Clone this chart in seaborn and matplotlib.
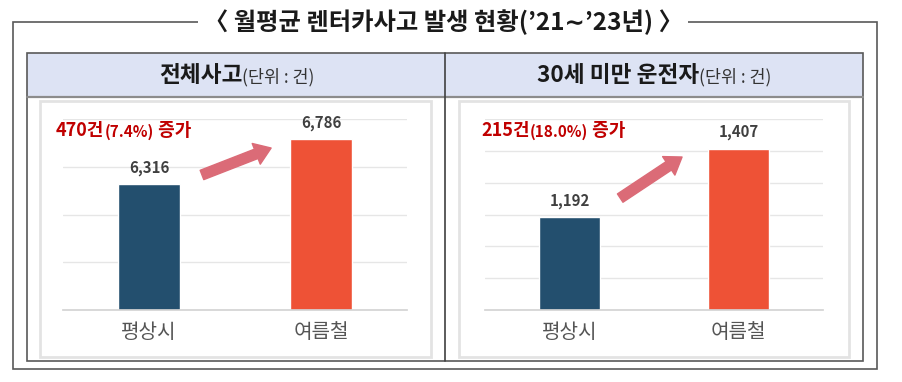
import matplotlib.pyplot as plt
import seaborn as sns
from matplotlib.patches import Rectangle, FancyArrowPatch
from matplotlib.lines import Line2D

# data
categories = ['평상시', '여름철']
total_values = [6316, 6786]
young_values = [1192, 1407]
total_note = ['470건', '(7.4%)', ' 증가']
young_note = ['215건', '(18.0%)', ' 증가']
total_ticks = [5000, 5500, 6000, 6500, 7000]
young_ticks = [900, 1000, 1100, 1200, 1300, 1400, 1500]
title = '〈 월평균 렌터카사고 발생 현황(’21∼’23년) 〉'
panel_titles = [('전체사고', '(단위 : 건)'), ('30세 미만 운전자', '(단위 : 건)')]
bar_colors = ['#234F6E', '#EE5236']

sns.set_theme(style='white')
plt.rcParams['font.family'] = ['Noto Sans CJK KR', 'DejaVu Sans']

W, H = 903, 382
fig = plt.figure(figsize=(W / 100, H / 100), dpi=100)


def fx(x):
    return x / W


def fy(y):
    return 1 - y / H


def box(x0, y0, x1, y1, **kw):
    fig.add_artist(Rectangle((fx(x0), fy(y1)), fx(x1) - fx(x0), fy(y0) - fy(y1),
                             transform=fig.transFigure, **kw))


def hline(x0, x1, y, **kw):
    fig.add_artist(Line2D([fx(x0), fx(x1)], [fy(y), fy(y)], transform=fig.transFigure, **kw))


def vline(x, y0, y1, **kw):
    fig.add_artist(Line2D([fx(x), fx(x)], [fy(y0), fy(y1)], transform=fig.transFigure, **kw))


# frames
box(13, 22, 877, 369, fill=False, ec='#595959', lw=1.2)
box(27, 53, 863, 97, fc='#DDE3F4', ec='none')
box(27, 53, 863, 361, fill=False, ec='#595959', lw=1.2)
hline(27, 863, 97, color='#8C8C8C', lw=1.6)
vline(445, 53, 361, color='#404040', lw=1.2)
box(40, 101, 431, 357, fill=False, ec='#E3E3E3', lw=2)
box(459, 101, 849, 357, fill=False, ec='#E3E3E3', lw=2)

fig.text(fx(443), fy(22), title, ha='center', va='center', fontsize=17.5, weight='bold',
         color='#1A1A1A', bbox=dict(fc='white', ec='none', pad=4))

# panel headers
for (main, unit), x in zip(panel_titles, [159, 537]):
    t = fig.text(fx(x), fy(75), main, ha='left', va='center', fontsize=16.3, weight='bold', color='#1A1A1A')
    fig.add_artist(plt.Annotation(unit, xy=(1, 0), xycoords=t, ha='left', va='bottom',
                                  fontsize=12.5, color='#333333'))


def draw_panel(rect, values, ticks, note, arrow):
    ax = fig.add_axes(rect)
    sns.barplot(x=categories, y=values, hue=categories, palette=bar_colors, width=0.36,
                legend=False, ax=ax, saturation=1)
    ax.set_ylim(ticks[0], ticks[-1])
    ax.set_xlim(-0.5, 1.5)
    ax.set_yticks(ticks)
    ax.set_yticklabels([])
    ax.yaxis.grid(True, color='#E6E6E6', lw=1)
    ax.set_axisbelow(True)
    ax.patch.set_alpha(0)
    for s in ['left', 'right', 'top']:
        ax.spines[s].set_visible(False)
    ax.spines['bottom'].set_color('#D4D4D4')
    ax.tick_params(axis='both', length=0)
    ax.tick_params(axis='x', pad=9, labelsize=14.5, labelcolor='#555555')
    ax.set_xlabel('')
    ax.set_ylabel('')
    for c in ax.containers:
        ax.bar_label(c, fmt='{:,.0f}', padding=6, fontsize=10.8, weight='bold', color='#404040')

    # increase note in pieces of different size
    t = ax.text(note[0][0], note[0][1], note[1][0], transform=ax.transAxes, ha='left', va='center',
                fontsize=13, weight='bold', color='#C00000', clip_on=False)
    t2 = ax.annotate(note[1][1], xy=(1, 0), xycoords=t, ha='left', va='bottom',
                     fontsize=11, weight='bold', color='#C00000')
    ax.annotate(note[1][2], xy=(1, 0), xycoords=t2, ha='left', va='bottom',
                fontsize=13, weight='bold', color='#C00000')

    ax.add_patch(FancyArrowPatch(arrow[0], arrow[1], transform=ax.transAxes,
                                 arrowstyle='simple,head_length=1.15,head_width=1.6,tail_width=0.72',
                                 mutation_scale=10, color='#DB6B77', clip_on=False,
                                 shrinkA=0, shrinkB=0))
    return ax


draw_panel([fx(63), fy(310), fx(407) - fx(63), fy(119) - fy(310)], total_values, total_ticks,
           ((-0.02, 0.942), total_note), ((0.404, 0.707), (0.605, 0.848)))
draw_panel([fx(485), fy(310), fx(823) - fx(485), fy(119) - fy(310)], young_values, young_ticks,
           ((-0.012, 0.942), young_note), ((0.40, 0.586), (0.583, 0.801)))

fig.savefig('out.png', dpi=100)
